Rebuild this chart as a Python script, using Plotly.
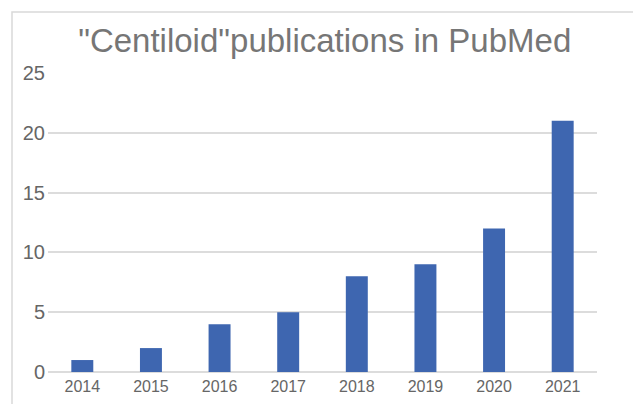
import plotly.graph_objects as go

years = ["2014", "2015", "2016", "2017", "2018", "2019", "2020", "2021"]
counts = [1, 2, 4, 5, 8, 9, 12, 21]
y_ticks = [0, 5, 10, 15, 20, 25]
title_text = '"Centiloid"publications in PubMed'

W, H = 633, 404
L, R, T, B = 48, 36, 73, 32
pw, ph = W - L - R, H - T - B

fig = go.Figure(go.Bar(x=years, y=counts, marker=dict(color="#3E66B0", line=dict(width=0)),
                       width=0.32))

bx = (12 - L) / pw
by = 1 + (T - 12) / ph
fig.add_shape(type="path", xref="paper", yref="paper",
              path=f"M {bx} -0.3 L {bx} {by} L 1.2 {by}",
              line=dict(color="#d9d9d9", width=1.5))

fig.update_layout(
    width=W, height=H,
    margin=dict(l=L, r=R, t=T, b=B, autoexpand=False),
    paper_bgcolor="white", plot_bgcolor="white",
    showlegend=False,
    title=dict(text=title_text, x=0.513, xanchor="center", y=1 - 40 / H, yanchor="middle",
               font=dict(family="Liberation Sans, Arial, sans-serif", size=33, color="#767676")),
    font=dict(family="Liberation Sans, Arial, sans-serif", color="#595959"),
    bargap=0.68,
)
fig.update_xaxes(type="category", showgrid=False, showline=False, ticks="",
                 tickfont=dict(size=16, color="#666666"), ticklabelstandoff=3)
fig.update_yaxes(range=[0, 25], tickvals=y_ticks, showgrid=True, gridcolor="#dcdcdc", gridwidth=1.5,
                 zeroline=True, zerolinecolor="#dcdcdc", zerolinewidth=1.5,
                 showline=False, ticks="", tickfont=dict(size=20, color="#666666"),
                 ticklabelstandoff=2)

fig.write_html("out.html", config={"displayModeBar": False},
               post_script="document.body.style.margin='0';")
